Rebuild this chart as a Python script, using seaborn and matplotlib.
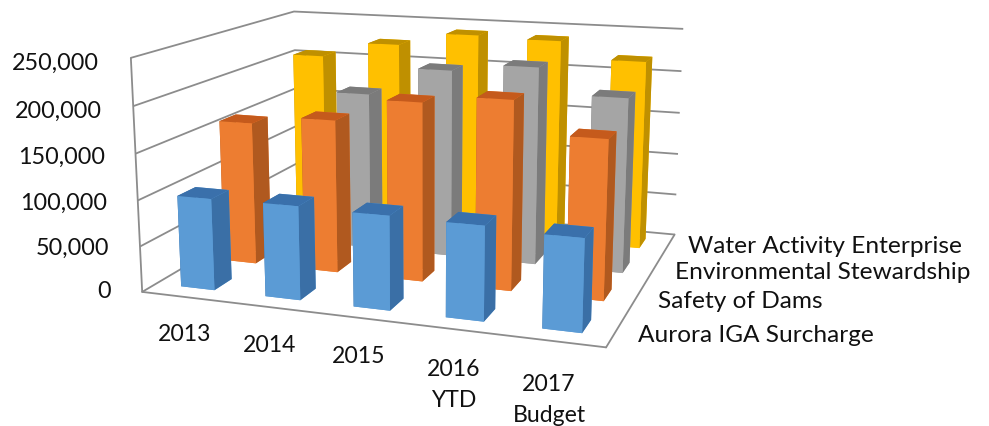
import matplotlib
matplotlib.use("Agg")
import matplotlib.pyplot as plt
import seaborn as sns

years = ["2013", "2014", "2015", "2016\nYTD", "2017\nBudget"]
funds = ["Aurora IGA Surcharge", "Safety of Dams", "Environmental Stewardship", "Water Activity Enterprise"]
aurora = [100000, 101000, 100000, 99000, 96000]
dams = [161000, 171000, 197000, 206000, 172000]
stewardship = [0, 182000, 215000, 224000, 196000]
enterprise = [206000, 225000, 241000, 239000, 220000]
value_ticks = [0, 50000, 100000, 150000, 200000, 250000]

# (front, side, top) shades per series
shades = [
    ("#5B9BD5", "#3A6FA6", "#3A70AB"),
    ("#ED7D31", "#B0591F", "#C55A1C"),
    ("#A5A5A5", "#7B7B7B", "#7B7B7B"),
    ("#FFC000", "#BF9000", "#BF9000"),
]
frame_color = "#8C8C8C"
text_color = "#111111"

sns.set_theme(style="white", font="Lato")
W, H = 989, 427
fig = plt.figure(figsize=(W / 100, H / 100), dpi=100)
ax = fig.add_axes([0.12055, -0.08151, 0.60446, 1.40003], projection="3d")
ax.view_init(elev=12.9893, azim=-70.9262)
ax.set_proj_type("persp", focal_length=0.4286)
ax.set_box_aspect((1, 0.8042, 0.5027))
ax.set_xlim(0, len(years), view_margin=0)
ax.set_ylim(0, len(funds), view_margin=0)
ax.set_zlim(0, value_ticks[-1], view_margin=0)
ax.computed_zorder = False

# Bars are stacked back to front, left to right, so nearer boxes hide farther ones.
series = [aurora, dams, stewardship, enterprise]
layer = 2
for row in reversed(range(len(series))):
    front, side, top = shades[row]
    for col, value in enumerate(series[row]):
        ax.bar3d(col + 0.3, row + 0.3, 0, 0.4, 0.4, value,
                 color=[front, top, front, front, side, side],
                 shade=False, edgecolor="none", zorder=layer)
        layer += 1

# Only the value gridlines are shown on the two walls.
for axis in (ax.xaxis, ax.yaxis, ax.zaxis):
    axis.set_pane_color((1, 1, 1, 0))
    axis.pane.set_edgecolor("none")
    axis.line.set_color((1, 1, 1, 0))
    axis._axinfo["grid"]["linewidth"] = 0
ax.set_xticks([])
ax.set_yticks([])
ax.set_zticks(value_ticks, [""] * len(value_ticks))
ax.zaxis._axinfo["grid"].update(color=frame_color, linewidth=1.3)
ax.zaxis._axinfo["tick"].update(inward_factor=0, outward_factor=0)

# Floor front and right edges, and the left wall's front edge.
n_x, n_y, z_max = len(years), len(funds), value_ticks[-1]
frame = dict(color=frame_color, linewidth=1.3, zorder=1)
ax.plot([0, n_x], [0, 0], [0, 0], **frame)
ax.plot([n_x, n_x], [0, n_y], [0, 0], **frame)
ax.plot([0, 0], [0, 0], [0, z_max], **frame)


def label(x, y, text, ha="center", size=17.0):
    fig.text(x / W, 1 - y / H, text, ha=ha, va="center", fontsize=size,
             color=text_color, linespacing=1.55)


value_label_pos = [(111, 291.5), (109, 248.5), (107, 203.5), (105, 157.5), (102, 111.5), (99, 63.5)]
for tick, (x, y) in zip(value_ticks, value_label_pos):
    label(x, y, f"{tick:,}", ha="right", size=16.8)

year_label_pos = [(185, 334.5), (270, 345.5), (359, 356.5), (454, 385), (549, 400)]
for text, (x, y) in zip(years, year_label_pos):
    label(x, y, text, size=16.6)

fund_label_pos = [(638, 335.5), (658, 301.5), (675, 272.5), (688, 246.5)]
for text, (x, y) in zip(funds, fund_label_pos):
    label(x, y, text, ha="left", size=17.6)

fig.savefig("out.png", dpi=100)
